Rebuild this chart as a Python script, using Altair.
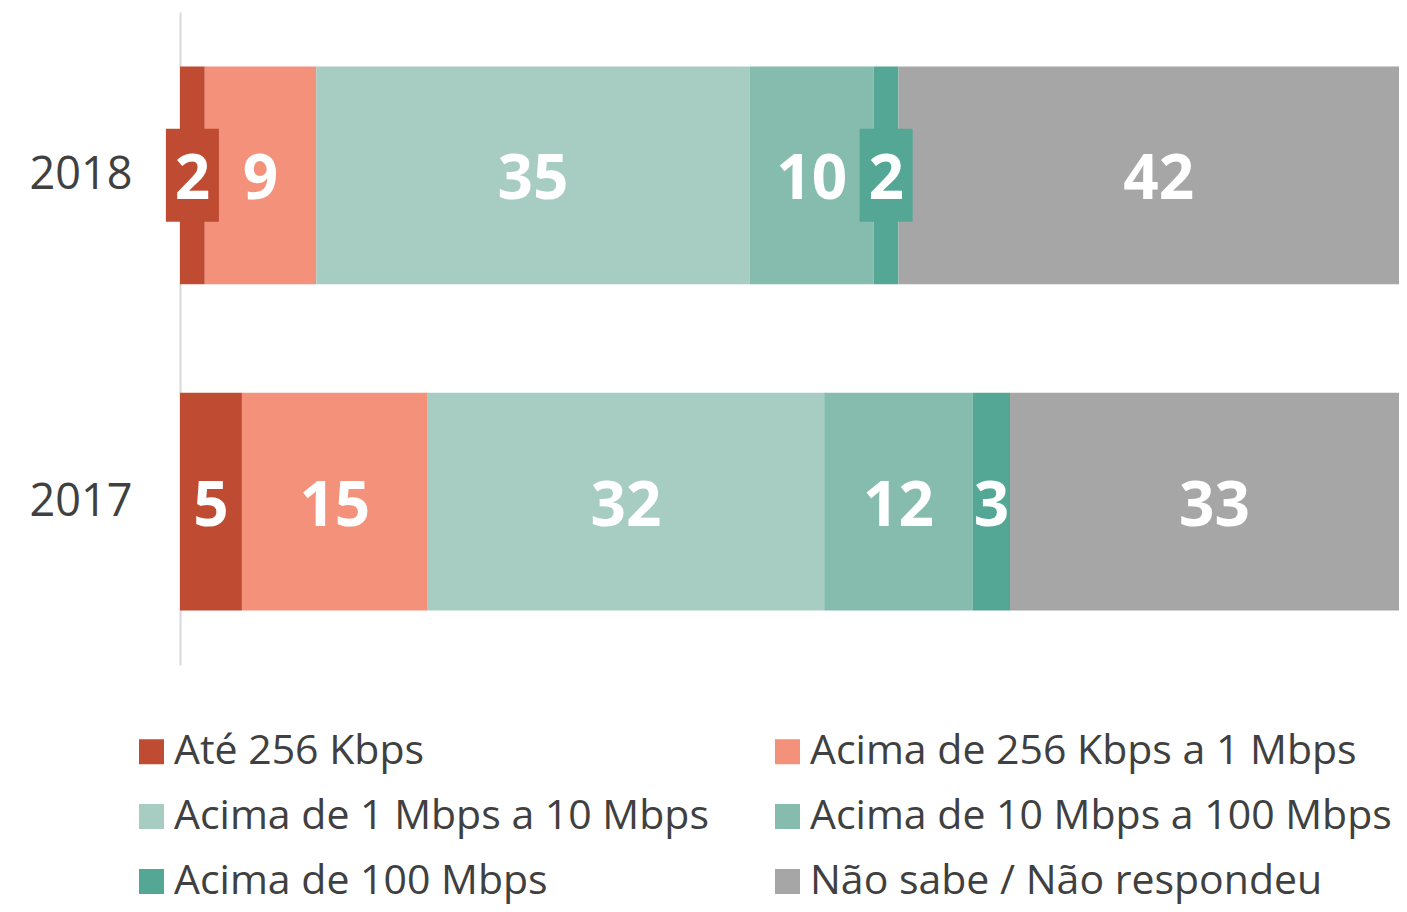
import altair as alt
import pandas as pd

years = ["2018", "2017"]
categories = [
    "Até 256 Kbps",
    "Acima de 256 Kbps a 1 Mbps",
    "Acima de 1 Mbps a 10 Mbps",
    "Acima de 10 Mbps a 100 Mbps",
    "Acima de 100 Mbps",
    "Não sabe / Não respondeu",
]
colors = ["#be4b32", "#f4917a", "#a7cdc3", "#85bcae", "#54a795", "#a6a6a6"]
values_2018 = [2, 9, 35, 10, 2, 42]
values_2017 = [5, 15, 32, 12, 3, 33]

rows = []
for year, vals in zip(years, [values_2018, values_2017]):
    start = 0
    for i, (cat, v) in enumerate(zip(categories, vals)):
        rows.append({"year": year, "category": cat, "order": i, "value": v,
                     "start": start, "end": start + v, "mid": start + v / 2,
                     "boxed": v <= 2})
        start += v
df = pd.DataFrame(rows)

FONT = "Open Sans"
TEXT_COLOR = "#404040"

color = alt.Color(
    "category:N",
    scale=alt.Scale(domain=categories, range=colors),
    legend=alt.Legend(
        title=None, orient="none", legendX=-49, legendY=719, columns=2,
        direction="horizontal",
        symbolType="square", symbolSize=625, symbolStrokeWidth=0,
        labelFontSize=41, labelFont=FONT, labelColor=TEXT_COLOR,
        labelOffset=2, rowPadding=23, columnPadding=58, labelLimit=800,
    ),
)
y = alt.Y(
    "year:N", sort=years, title=None,
    scale=alt.Scale(paddingInner=0.333, paddingOuter=0.167),
    axis=alt.Axis(ticks=False, labelFontSize=45, labelFont=FONT, labelColor=TEXT_COLOR,
                  labelPadding=48, domainColor="#d9d9d9", domainWidth=2, grid=False),
)
# visible part of the 0-100 % axis (the right end is cut by the frame, as in the original)
xscale = alt.Scale(domain=[0, 98.4], nice=False, zero=False)

base = alt.Chart(df)
bars = base.mark_bar(stroke=None, clip=True).encode(
    y=y,
    x=alt.X("start:Q", scale=xscale, axis=None),
    x2="end:Q",
    color=color,
    order="order:Q",
)
boxes = base.transform_filter("datum.boxed").mark_point(
    shape="M-0.57,-1H0.57V1H-0.57Z", size=8649, filled=True, opacity=1
).encode(
    y=alt.Y("year:N", sort=years),
    x=alt.X("mid:Q", scale=xscale),
    color=alt.Color("category:N", legend=None),
)
labels = base.mark_text(
    color="white", fontSize=62, fontWeight="bold", font=FONT, baseline="middle", dy=5
).encode(
    y=alt.Y("year:N", sort=years),
    x=alt.X("mid:Q", scale=xscale),
    text="value:Q",
)

chart = alt.layer(bars, boxes, labels).properties(
    width=1219, height=653,
    autosize=alt.AutoSizeParams(type="none"),
    padding={"left": 172, "top": 4, "right": 0, "bottom": 239},
).configure(background="white").configure_view(stroke=None)

chart.save("out.html", embed_options={"renderer": "svg", "actions": False})
